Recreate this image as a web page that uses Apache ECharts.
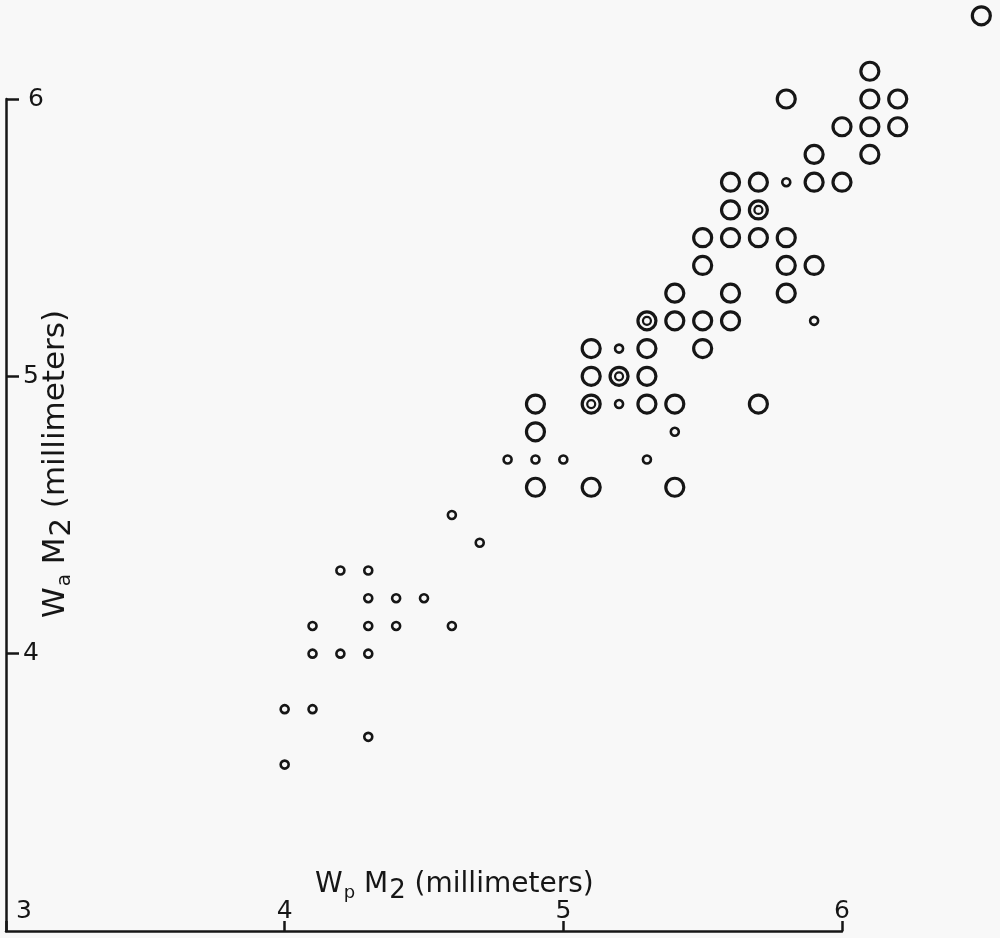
<!DOCTYPE html>
<html>
<head>
<meta charset="utf-8">
<script src="https://cdn.jsdelivr.net/npm/echarts@6/dist/echarts.min.js"></script>
<style>
html,body{margin:0;padding:0;background:#f8f8f8;}
#chart{width:1000px;height:938px;}
</style>
</head>
<body>
<div id="chart"></div>
<script>
// Data (millimeters): [Wp M2, Wa M2]
var smallPoints = [
  [5.8,5.7],[5.9,5.2],[5.2,5.1],[5.2,4.9],[5.4,4.8],[4.8,4.7],[4.9,4.7],[5.0,4.7],[5.3,4.7],
  [4.6,4.5],[4.7,4.4],[4.2,4.3],[4.3,4.3],[4.3,4.2],[4.4,4.2],[4.5,4.2],
  [4.1,4.1],[4.3,4.1],[4.4,4.1],[4.6,4.1],[4.1,4.0],[4.2,4.0],[4.3,4.0],
  [4.0,3.8],[4.1,3.8],[4.3,3.7],[4.0,3.6]
];
var largePoints = [
  [6.1,6.1],[5.8,6.0],[6.1,6.0],[6.2,6.0],[6.0,5.9],[6.1,5.9],[6.2,5.9],[5.9,5.8],[6.1,5.8],
  [5.6,5.7],[5.7,5.7],[5.9,5.7],[6.0,5.7],[5.6,5.6],
  [5.5,5.5],[5.6,5.5],[5.7,5.5],[5.8,5.5],[5.5,5.4],[5.8,5.4],[5.9,5.4],
  [5.4,5.3],[5.6,5.3],[5.8,5.3],[5.4,5.2],[5.5,5.2],[5.6,5.2],
  [5.1,5.1],[5.3,5.1],[5.5,5.1],[5.1,5.0],[5.3,5.0],
  [4.9,4.9],[5.3,4.9],[5.4,4.9],[5.7,4.9],[4.9,4.8],
  [4.9,4.6],[5.1,4.6],[5.4,4.6],
  [6.5,6.3]
];
var doublePoints = [[5.7,5.6],[5.3,5.2],[5.2,5.0],[5.1,4.9]];
var xTicks = [3,4,5,6];
var yTicks = [3,4,5,6];
var xTitle = ['W','p',' M','2',' (millimeters)'];
var yTitle = ['W','a',' M','2',' (millimeters)'];

var ink = '#161616';
var font = 'DejaVu Sans';
var chart = echarts.init(document.getElementById('chart'));

function titleText(parts){
  return '{n|' + parts[0] + '}{s|' + parts[1] + '}{n|' + parts[2] + '}{d|' + parts[3] + '}{n|' + parts[4] + '}';
}
function makeRich(k){
  return {
    n: {fontSize: Math.round(28*k), fontFamily: font, fill: ink, lineHeight: Math.round(31*k)},
    s: {fontSize: Math.round(18*k), fontFamily: font, fill: ink, lineHeight: Math.round(20*k), padding: [Math.round(16*k),0,0,1]},
    d: {fontSize: Math.round(26*k), fontFamily: font, fill: ink, lineHeight: Math.round(28*k), padding: [Math.round(12*k),0,0,1]}
  };
}
var sym = {color: 'rgba(0,0,0,0)', borderColor: ink, opacity: 1};

chart.setOption({
  animation: false,
  backgroundColor: '#f8f8f8',
  grid: {left: 6, right: 158, top: 99, bottom: 7, containLabel: false},
  xAxis: {
    type: 'value', min: xTicks[0], max: xTicks[xTicks.length-1], interval: 1,
    axisLine: {lineStyle: {color: ink, width: 2.5}},
    axisTick: {inside: true, length: 10, lineStyle: {color: ink, width: 2.5}},
    axisLabel: {
      inside: true, margin: 7, color: ink, fontSize: 25, fontFamily: font,
      formatter: function(v){ return v === xTicks[0] ? '{c|' + v + '}' : String(v); },
      rich: {c: {fontSize: 25, fontFamily: font, color: ink, padding: [0,0,0,36]}}
    },
    splitLine: {show: false}
  },
  yAxis: {
    type: 'value', min: yTicks[0], max: yTicks[yTicks.length-1], interval: 1,
    axisLine: {lineStyle: {color: ink, width: 2.5}},
    axisTick: {inside: true, length: 13, lineStyle: {color: ink, width: 2.5}},
    axisLabel: {
      inside: true, margin: 17, color: ink, fontSize: 25, fontFamily: font, showMinLabel: false,
      formatter: function(v){ return v === yTicks[yTicks.length-1] ? '{t|' + v + '}' : String(v); },
      rich: {t: {fontSize: 25, fontFamily: font, color: ink, padding: [0,0,0,5]}}
    },
    splitLine: {show: false}
  },
  series: [
    {type: 'scatter', name: 'small', data: smallPoints, clip: false, symbol: 'circle', symbolSize: 8,
     itemStyle: Object.assign({borderWidth: 2.6}, sym)},
    {type: 'scatter', name: 'large', data: largePoints, clip: false, symbol: 'circle', symbolSize: 18,
     itemStyle: Object.assign({borderWidth: 3.2}, sym)},
    {type: 'scatter', name: 'double-outer', data: doublePoints, clip: false, symbol: 'circle', symbolSize: 18,
     itemStyle: Object.assign({borderWidth: 3.2}, sym)},
    {type: 'scatter', name: 'double-inner', data: doublePoints, clip: false, symbol: 'circle', symbolSize: 8,
     itemStyle: Object.assign({borderWidth: 2.2}, sym)}
  ],
  graphic: [
    {type: 'text', left: 315, top: 866, style: {text: titleText(xTitle), rich: makeRich(1)}},
    {type: 'text', x: 56, y: 464, rotation: Math.PI/2,
     style: {text: titleText(yTitle), rich: makeRich(1.1), align: 'center', verticalAlign: 'middle'}}
  ]
});
</script>
</body>
</html>
